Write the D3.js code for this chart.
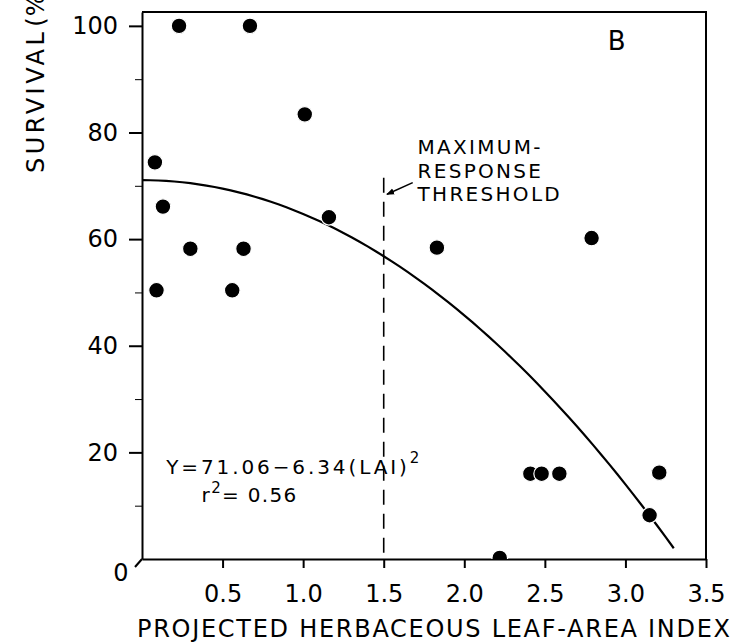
<!DOCTYPE html>
<html>
<head>
<meta charset="utf-8">
<script src="https://cdn.jsdelivr.net/npm/d3@7"></script>
<style>
  body { margin: 0; background: #fff; }
  text { font-family: "DejaVu Sans", sans-serif; fill: #000; }
</style>
</head>
<body>
<div id="chart"></div>
<script>
// leaf-area index vs survival (%)
var lai      = [0.23, 0.67, 1.01, 0.08, 0.13, 1.16, 0.30, 0.63, 0.09, 0.56, 1.83, 2.79, 2.41, 2.48, 2.59, 3.21, 3.15, 2.22];
var survival = [100, 100, 83.4, 74.4, 66.1, 64.1, 58.2, 58.2, 50.4, 50.4, 58.4, 60.2, 16, 16, 16, 16.2, 8.2, 0.2];

var xTicks = [0.5, 1.0, 1.5, 2.0, 2.5, 3.0, 3.5];
var yTicks = [20, 40, 60, 80, 100];
var yMinor = [10, 30, 50, 70, 90];

// fitted curve Y = 71.06 - 6.34 (LAI)^2
var fitA = 71.06, fitB = 6.34, fitEnd = 3.3;
var threshold = 1.5;

var W = 737, H = 643;
var margin = {top: 12, right: 31, bottom: 84, left: 142},
    width = W - margin.left - margin.right,
    height = H - margin.top - margin.bottom;

var x = d3.scaleLinear().domain([0, 3.5]).range([0, width]);
var y = d3.scaleLinear().domain([0, 102.6]).range([height, 0]);

var svg = d3.select("#chart").append("svg")
    .attr("width", W)
    .attr("height", H)
  .append("g")
    .attr("transform", "translate(" + margin.left + "," + margin.top + ")");

svg.append("clipPath").attr("id", "plot")
  .append("rect").attr("width", width).attr("height", height);

// frame (top and right)
svg.append("path")
    .attr("d", "M0,0H" + width + "V" + height)
    .attr("fill", "none")
    .attr("stroke", "#000")
    .attr("stroke-width", 2);

// y axis with major and minor ticks
var yAx = svg.append("g")
    .call(d3.axisLeft(y).tickValues(yTicks).tickSize(13).tickPadding(11).tickSizeOuter(0));
svg.append("g")
    .call(d3.axisLeft(y).tickValues(yMinor).tickSize(7).tickFormat("").tickSizeOuter(0))
    .select(".domain").remove();

// x axis
var xAx = svg.append("g")
    .attr("transform", "translate(0," + height + ")")
    .call(d3.axisBottom(x).tickValues(xTicks).tickSize(9).tickPadding(17)
      .tickFormat(d3.format(".1f")).tickSizeOuter(0));

[yAx, xAx].forEach(function(a) {
  a.selectAll("path, line").attr("stroke", "#000").attr("stroke-width", 2);
  a.selectAll("text").style("font-size", "24px").style("font-family", "DejaVu Sans");
});

// origin mark and "0"
svg.append("line")
    .attr("x1", x(0)).attr("y1", y(0))
    .attr("x2", x(0) - 7).attr("y2", y(0) + 8)
    .attr("stroke", "#000").attr("stroke-width", 2);
svg.append("text")
    .attr("x", x(0) - 21).attr("y", y(0) + 14)
    .attr("text-anchor", "middle")
    .attr("dy", "0.35em")
    .style("font-size", "24px")
    .text("0");

// threshold line
svg.append("line")
    .attr("x1", x(threshold)).attr("x2", x(threshold))
    .attr("y1", y(71.5)).attr("y2", y(0))
    .attr("stroke", "#000")
    .attr("stroke-width", 1.6)
    .attr("stroke-dasharray", "15,9");

// arrow to threshold line
svg.append("defs").append("marker")
    .attr("id", "arrow")
    .attr("viewBox", "0 0 10 10")
    .attr("refX", 9).attr("refY", 5)
    .attr("markerWidth", 5).attr("markerHeight", 5)
    .attr("orient", "auto")
  .append("path").attr("d", "M0,1L10,5L0,9z").attr("fill", "#000");
svg.append("line")
    .attr("x1", x(1.68)).attr("y1", y(70.6))
    .attr("x2", x(1.52)).attr("y2", y(68.4))
    .attr("stroke", "#000").attr("stroke-width", 1.6)
    .attr("marker-end", "url(#arrow)");

var note = svg.append("text")
    .attr("x", x(1.71))
    .attr("y", y(75.9))
    .style("font-size", "20px")
    .style("letter-spacing", "2.3px");
["MAXIMUM-", "RESPONSE", "THRESHOLD"].forEach(function(t, i) {
  note.append("tspan").attr("x", x(1.71)).attr("dy", i ? 23.5 : 0).text(t);
});

// fitted curve
var curve = d3.range(0, fitEnd + 0.001, 0.05).map(function(v) {
  return [v, fitA - fitB * v * v];
});
svg.append("path")
    .datum(curve)
    .attr("fill", "none")
    .attr("stroke", "#000")
    .attr("stroke-width", 2.2)
    .attr("d", d3.line()
      .x(function(d) { return x(d[0]); })
      .y(function(d) { return y(d[1]); }));

// points
svg.append("g")
    .attr("clip-path", "url(#plot)")
  .selectAll("circle")
    .data(lai)
    .enter().append("circle")
    .attr("cx", function(d) { return x(d); })
    .attr("cy", function(d, i) { return y(survival[i]); })
    .attr("r", 7.8)
    .attr("fill", "#000")
    .attr("stroke", "#fff")
    .attr("stroke-width", 1.2);

// equation
var eq = svg.append("text")
    .attr("x", x(0.15))
    .attr("y", y(15.9))
    .style("font-size", "20px")
    .style("letter-spacing", "2.9px");
eq.append("tspan").text("Y=71.06\u22126.34(LAI)");
eq.append("tspan").attr("dy", -11).style("font-size", "15px").text("2");

var r2 = svg.append("text")
    .attr("x", x(0.37))
    .attr("y", y(10.7))
    .style("font-size", "20px")
    .style("letter-spacing", "1.3px");
r2.append("tspan").text("r");
r2.append("tspan").attr("dy", -9).style("font-size", "15px").text("2");
r2.append("tspan").attr("dy", 9).text("= 0.56");

// panel letter
svg.append("text")
    .attr("x", x(2.89))
    .attr("y", y(95.5))
    .style("font-size", "26px")
    .text("B");

// axis titles
svg.append("text")
    .attr("x", -5)
    .attr("y", height + 78)
    .attr("textLength", 593)
    .style("font-size", "24px")
    .text("PROJECTED HERBACEOUS LEAF-AREA INDEX");

var yTitle = svg.append("text")
    .attr("transform", "rotate(-90)")
    .attr("x", -(y(72.4)))
    .attr("y", -margin.left + 44)
    .style("font-size", "24px");
yTitle.append("tspan").style("letter-spacing", "3.5px").text("SURVIVAL");
yTitle.append("tspan").attr("dx", 2).style("letter-spacing", "1px").text("(%)");
</script>
</body>
</html>
